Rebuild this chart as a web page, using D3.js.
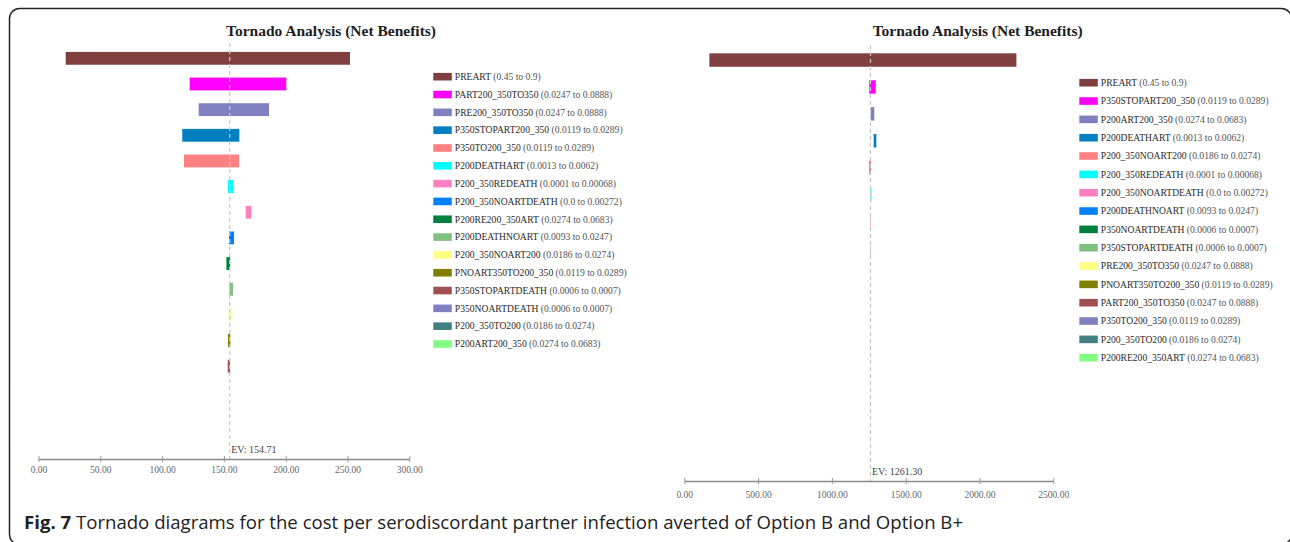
<!DOCTYPE html>
<meta charset="utf-8">
<style>
body {
  margin: 0;
  background-color: #fff;
}
svg text {
  font-family: "Liberation Serif", "DejaVu Serif", serif;
}
.axis path {
  stroke: #8a8a8a;
  stroke-width: 1.6px;
}
.axis line {
  stroke: #9a9a9a;
  stroke-width: 1px;
}
.axis text {
  fill: #666;
  font-size: 9.5px;
}
.ev {
  stroke: #c8c8c8;
  stroke-width: 1.2px;
  stroke-dasharray: 4,3;
}
.title {
  font-size: 15.5px;
  font-weight: bold;
  fill: #1e1e1e;
}
.legend text {
  font-size: 9.6px;
}
.caption {
  font-family: "Open Sans", sans-serif;
  font-size: 18.6px;
  fill: #222;
}
</style>
<svg class="fig" width="1290" height="542"></svg>

<script src="https://cdn.jsdelivr.net/npm/d3@7"></script>
<script>
// shared palette (same order in both legends)
var colors = ["#804040", "#ff00ff", "#8080c0", "#0080c0", "#ff8080", "#00ffff", "#ff80c0", "#0080ff",
              "#008040", "#80c080", "#ffff80", "#808000", "#a05050", "#8080c0", "#408080", "#80ff80"];

// Option B (left)
var leftLabels = ["PREART", "PART200_350TO350", "PRE200_350TO350", "P350STOPART200_350", "P350TO200_350",
                  "P200DEATHART", "P200_350REDEATH", "P200_350NOARTDEATH", "P200RE200_350ART", "P200DEATHNOART",
                  "P200_350NOART200", "PNOART350TO200_350", "P350STOPARTDEATH", "P350NOARTDEATH",
                  "P200_350TO200", "P200ART200_350"];
var leftRanges = ["(0.45 to 0.9)", "(0.0247 to 0.0888)", "(0.0247 to 0.0888)", "(0.0119 to 0.0289)",
                  "(0.0119 to 0.0289)", "(0.0013 to 0.0062)", "(0.0001 to 0.00068)", "(0.0 to 0.00272)",
                  "(0.0274 to 0.0683)", "(0.0093 to 0.0247)", "(0.0186 to 0.0274)", "(0.0119 to 0.0289)",
                  "(0.0006 to 0.0007)", "(0.0006 to 0.0007)", "(0.0186 to 0.0274)", "(0.0274 to 0.0683)"];
var leftLow  = [22.0, 122.3, 129.6, 116.3, 117.7, 153.3, 167.6, 154.1, 152.0, 154.4, 154.1, 153.3, 153.1, 154.70, 154.70, 154.70];
var leftHigh = [252.0, 200.5, 186.5, 162.5, 162.2, 157.9, 172.2, 158.2, 155.0, 157.4, 156.0, 155.2, 155.0, 154.72, 154.72, 154.72];
var leftEV = 154.71;
var leftTicks = [0, 50, 100, 150, 200, 250, 300];

// Option B+ (right)
var rightLabels = ["PREART", "P350STOPART200_350", "P200ART200_350", "P200DEATHART", "P200_350NOART200",
                   "P200_350REDEATH", "P200_350NOARTDEATH", "P200DEATHNOART", "P350NOARTDEATH",
                   "P350STOPARTDEATH", "PRE200_350TO350", "PNOART350TO200_350", "PART200_350TO350",
                   "P350TO200_350", "P200_350TO200", "P200RE200_350ART"];
var rightRanges = ["(0.45 to 0.9)", "(0.0119 to 0.0289)", "(0.0274 to 0.0683)", "(0.0013 to 0.0062)",
                   "(0.0186 to 0.0274)", "(0.0001 to 0.00068)", "(0.0 to 0.00272)", "(0.0093 to 0.0247)",
                   "(0.0006 to 0.0007)", "(0.0006 to 0.0007)", "(0.0247 to 0.0888)", "(0.0119 to 0.0289)",
                   "(0.0247 to 0.0888)", "(0.0119 to 0.0289)", "(0.0186 to 0.0274)", "(0.0274 to 0.0683)"];
var rightLow  = [170, 1253, 1263, 1283, 1251, 1261, 1261, 1260.5, 1261.2, 1261.2, 1261.2, 1261.2, 1261.2, 1261.2, 1261.2, 1261.2];
var rightHigh = [2250, 1297, 1287, 1301, 1265, 1268, 1265, 1262.5, 1261.4, 1261.4, 1261.4, 1261.4, 1261.4, 1261.4, 1261.4, 1261.4];
var rightEV = 1261.30;
var rightTicks = [0, 500, 1000, 1500, 2000, 2500];

var svg = d3.select(".fig");

// outer frame (bottom and right edges run off the page)
svg.append("rect")
    .attr("x", 9.5).attr("y", 8.5)
    .attr("width", 1282).attr("height", 536)
    .attr("rx", 10)
    .attr("fill", "none")
    .attr("stroke", "#222")
    .attr("stroke-width", 1.5);

function drawTornado(o) {
  var x = d3.scaleLinear().domain([0, o.ticks[o.ticks.length - 1]]).range([o.x0, o.x1]);
  var y = d3.scaleBand().domain(o.labels).range([o.yTop, o.yBot]).paddingInner(0.5).paddingOuter(0.25);

  var rows = o.labels.map(function(l, i) {
    return {label: l, range: o.ranges[i], lo: o.low[i], hi: o.high[i], color: colors[i]};
  });

  svg.append("text")
      .attr("class", "title")
      .attr("x", o.titleX).attr("y", 36)
      .attr("text-anchor", "middle")
      .text("Tornado Analysis (Net Benefits)");

  svg.selectAll(null)
      .data(rows)
    .enter().append("rect")
      .attr("x", function(d) { return x(d.lo); })
      .attr("y", function(d) { return y(d.label); })
      .attr("width", function(d) { return Math.max(0, x(d.hi) - x(d.lo)); })
      .attr("height", y.bandwidth())
      .attr("fill", function(d) { return d.color; });

  // expected value line
  svg.append("line")
      .attr("class", "ev")
      .attr("x1", x(o.ev)).attr("x2", x(o.ev))
      .attr("y1", o.evTop).attr("y2", o.axisY);

  svg.append("text")
      .attr("x", x(o.ev) + 1.5).attr("y", o.axisY - 6)
      .style("font-size", "10px")
      .style("fill", "#444")
      .text("EV: " + o.ev.toFixed(2));

  var ax = svg.append("g")
      .attr("class", "axis")
      .attr("transform", "translate(0," + o.axisY + ")")
      .call(d3.axisBottom(x).tickValues(o.ticks).tickFormat(d3.format(".2f"))
              .tickSizeInner(3).tickSizeOuter(0).tickPadding(o.pad));
  ax.selectAll(".tick line").attr("y1", -3);

  var ly = d3.scalePoint().domain(o.labels).range([o.legTop, o.legBot]);
  var leg = svg.append("g").attr("class", "legend")
    .selectAll("g")
      .data(rows)
    .enter().append("g")
      .attr("transform", function(d) { return "translate(" + o.legX + "," + ly(d.label) + ")"; });

  leg.append("rect")
      .attr("x", 0).attr("y", -3.8)
      .attr("width", 18.5).attr("height", 7.6)
      .attr("fill", function(d) { return d.color; });

  var t = leg.append("text")
      .attr("x", 21.5).attr("y", 3.3);
  t.append("tspan").style("fill", "#2a2a2a").text(function(d) { return d.label; });
  t.append("tspan").style("fill", "#555").text(function(d) { return " " + d.range; });
}

drawTornado({
  labels: leftLabels, ranges: leftRanges, low: leftLow, high: leftHigh, ev: leftEV, ticks: leftTicks,
  x0: 38.5, x1: 409.3, yTop: 45.5, yBot: 456, axisY: 459, evTop: 43, pad: 4,
  titleX: 331, legX: 433.3, legTop: 76.7, legBot: 344
});

drawTornado({
  labels: rightLabels, ranges: rightRanges, low: rightLow, high: rightHigh, ev: rightEV, ticks: rightTicks,
  x0: 684.3, x1: 1053.3, yTop: 46.6, yBot: 477, axisY: 481, evTop: 45, pad: 7,
  titleX: 977.7, legX: 1079.3, legTop: 82.7, legBot: 357.7
});

// caption
var cap = svg.append("text")
    .attr("class", "caption")
    .attr("x", 24).attr("y", 529);
cap.append("tspan").style("font-weight", "bold").text("Fig. 7");
cap.append("tspan").text(" Tornado diagrams for the cost per serodiscordant partner infection averted of Option B and Option B+");
</script>
